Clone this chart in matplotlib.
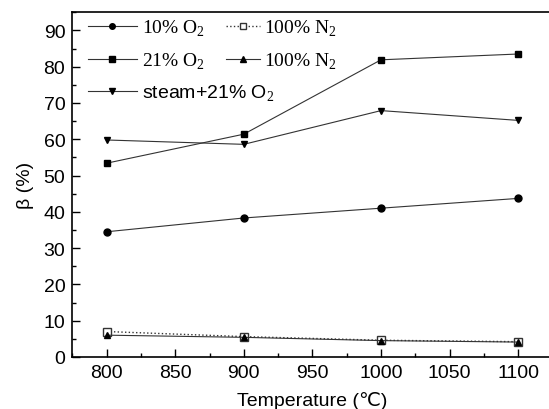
import matplotlib
matplotlib.use("Agg")
import matplotlib.pyplot as plt
from matplotlib.ticker import MultipleLocator

# values
temperature = [800, 900, 1000, 1100]
o2_10 = [34.5, 38.3, 41.0, 43.7]
o2_21 = [53.4, 61.4, 81.9, 83.5]
steam_o2_21 = [59.8, 58.6, 67.9, 65.2]
n2_open = [7.0, 5.6, 4.6, 4.2]
n2_filled = [6.0, 5.4, 4.5, 4.1]

xlim = (775, 1125)
ylim = (0, 95)

plt.rcParams["mathtext.fontset"] = "custom"
plt.rcParams["mathtext.rm"] = "Liberation Serif"
plt.rcParams["font.family"] = ["Liberation Sans", "DejaVu Sans"]

fig = plt.figure(figsize=(5.49, 4.10), dpi=100)
ax = fig.add_axes([0.1317, 0.127, 0.8747, 0.8406])

line_kw = dict(color="#333333", lw=0.8, mfc="black", mec="black", ms=5)
h10, = ax.plot(temperature, o2_10, marker="o", **line_kw)
h21, = ax.plot(temperature, o2_21, marker="s", **line_kw)
hst, = ax.plot(temperature, steam_o2_21, marker="v", **line_kw)
hno, = ax.plot(temperature, n2_open, marker="s", ls=":", color="#333333", lw=1.0,
               mfc="white", mec="#333333", ms=5.5)
hnf, = ax.plot(temperature, n2_filled, marker="^", **line_kw)

ax.set_xlim(*xlim)
ax.set_ylim(*ylim)
ax.xaxis.set_major_locator(MultipleLocator(50))
ax.xaxis.set_minor_locator(MultipleLocator(25))
ax.yaxis.set_major_locator(MultipleLocator(10))
ax.yaxis.set_minor_locator(MultipleLocator(5))
ax.tick_params(which="both", direction="in", top=False, right=False, labelsize=14, width=1.0)
ax.tick_params(which="major", length=6, pad=5)
ax.tick_params(which="minor", length=3)
for sp in ax.spines.values():
    sp.set_linewidth(1.2)

ax.set_xlabel("Temperature (℃)", fontsize=14, labelpad=7)
ax.set_ylabel("β (%)", fontsize=14, labelpad=7)

serif = {"family": "Liberation Serif", "size": 14}
common = dict(loc="upper left", frameon=False, prop=serif, borderpad=0, borderaxespad=0,
              labelspacing=0.62, markerscale=0.8)
leg1 = ax.legend([h10, h21, hst], ["10% O$_2$", "21% O$_2$", "steam+21% O$_2$"],
                 bbox_to_anchor=(0.0327, 0.983), handlelength=2.5, handletextpad=0.3, **common)
leg1.get_texts()[2].set_fontfamily("Liberation Sans")
ax.add_artist(leg1)
ax.legend([hno, hnf], ["100% N$_2$", "100% N$_2$"],
          bbox_to_anchor=(0.320, 0.983), handlelength=1.75, handletextpad=0.2, **common)

fig.savefig("out.png", dpi=100)
